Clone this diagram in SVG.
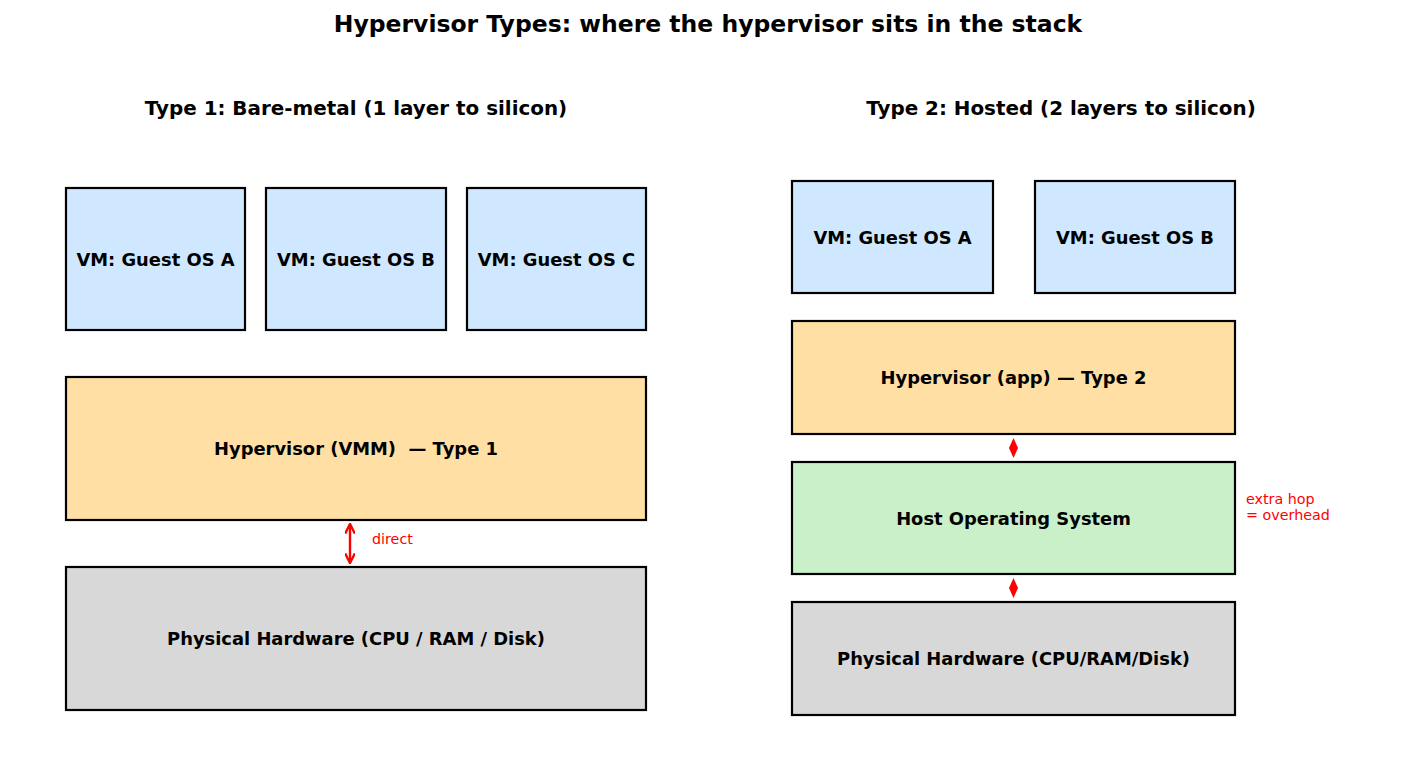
<svg xmlns="http://www.w3.org/2000/svg" width="1417" height="770" viewBox="0 0 1417 770">
<style>
text{font-family:"DejaVu Sans",sans-serif;}
.t{font-weight:bold;font-size:23.5px;text-anchor:middle;}
.s{font-weight:bold;font-size:19.9px;text-anchor:middle;}
.l{font-weight:bold;font-size:17.9px;text-anchor:middle;dominant-baseline:central;}
.b{stroke:#000;stroke-width:2.2;}
.vm{fill:#cfe8ff;}
.hv{fill:#ffdfa3;}
.os{fill:#c9f0c9;}
.hw{fill:#d8d8d8;}
.r{fill:#f00;font-size:14.3px;}
.a{stroke:#f00;stroke-width:2.4;fill:none;}
</style>
<defs>
<marker id="ah" viewBox="0 0 10 10" refX="8" refY="5" markerWidth="4.5" markerHeight="4.5" orient="auto-start-reverse" markerUnits="strokeWidth">
<path d="M0,0.5 L9,5 L0,9.5" fill="none" stroke="#f00" stroke-width="2.2" stroke-linejoin="miter"/>
</marker>
</defs>
<rect width="1417" height="770" fill="#fff"/>
<text class="t" x="708" y="32">Hypervisor Types: where the hypervisor sits in the stack</text>
<text class="s" x="356" y="115">Type 1: Bare-metal (1 layer to silicon)</text>
<text class="s" x="1061" y="115">Type 2: Hosted (2 layers to silicon)</text>
<g id="t1-vm-a"><rect class="b vm" x="66" y="188" width="179" height="142"/><text class="l" x="155.5" y="259">VM: Guest OS A</text></g>
<g id="t1-vm-b"><rect class="b vm" x="266" y="188" width="180" height="142"/><text class="l" x="356" y="259">VM: Guest OS B</text></g>
<g id="t1-vm-c"><rect class="b vm" x="467" y="188" width="179" height="142"/><text class="l" x="556.5" y="259">VM: Guest OS C</text></g>
<g id="t1-hyp"><rect class="b hv" x="66" y="377" width="580" height="143"/><text class="l" x="356" y="448" xml:space="preserve">Hypervisor (VMM)  — Type 1</text></g>
<g id="t1-hw"><rect class="b hw" x="66" y="567" width="580" height="143"/><text class="l" x="356" y="638">Physical Hardware (CPU / RAM / Disk)</text></g>
<g id="t2-vm-a"><rect class="b vm" x="792" y="181" width="201" height="112"/><text class="l" x="892.5" y="237">VM: Guest OS A</text></g>
<g id="t2-vm-b"><rect class="b vm" x="1035" y="181" width="200" height="112"/><text class="l" x="1135" y="237">VM: Guest OS B</text></g>
<g id="t2-hyp"><rect class="b hv" x="792" y="321" width="443" height="113"/><text class="l" x="1013.5" y="377">Hypervisor (app) — Type 2</text></g>
<g id="t2-os"><rect class="b os" x="792" y="462" width="443" height="112"/><text class="l" x="1013.5" y="518">Host Operating System</text></g>
<g id="t2-hw"><rect class="b hw" x="792" y="602" width="443" height="113"/><text class="l" x="1013.5" y="658">Physical Hardware (CPU/RAM/Disk)</text></g>
<g id="connectors">
<line class="a" x1="350" y1="525" x2="350" y2="562" marker-start="url(#ah)" marker-end="url(#ah)"/>
<path d="M1013.5,438 L1018,448 L1013.5,458 L1009,448 Z" fill="#f00"/>
<path d="M1013.5,578 L1018,588 L1013.5,598 L1009,588 Z" fill="#f00"/>
</g>
<text class="r" x="372" y="544">direct</text>
<text class="r" x="1246" y="504">extra hop</text>
<text class="r" x="1246" y="520">= overhead</text>
</svg>
